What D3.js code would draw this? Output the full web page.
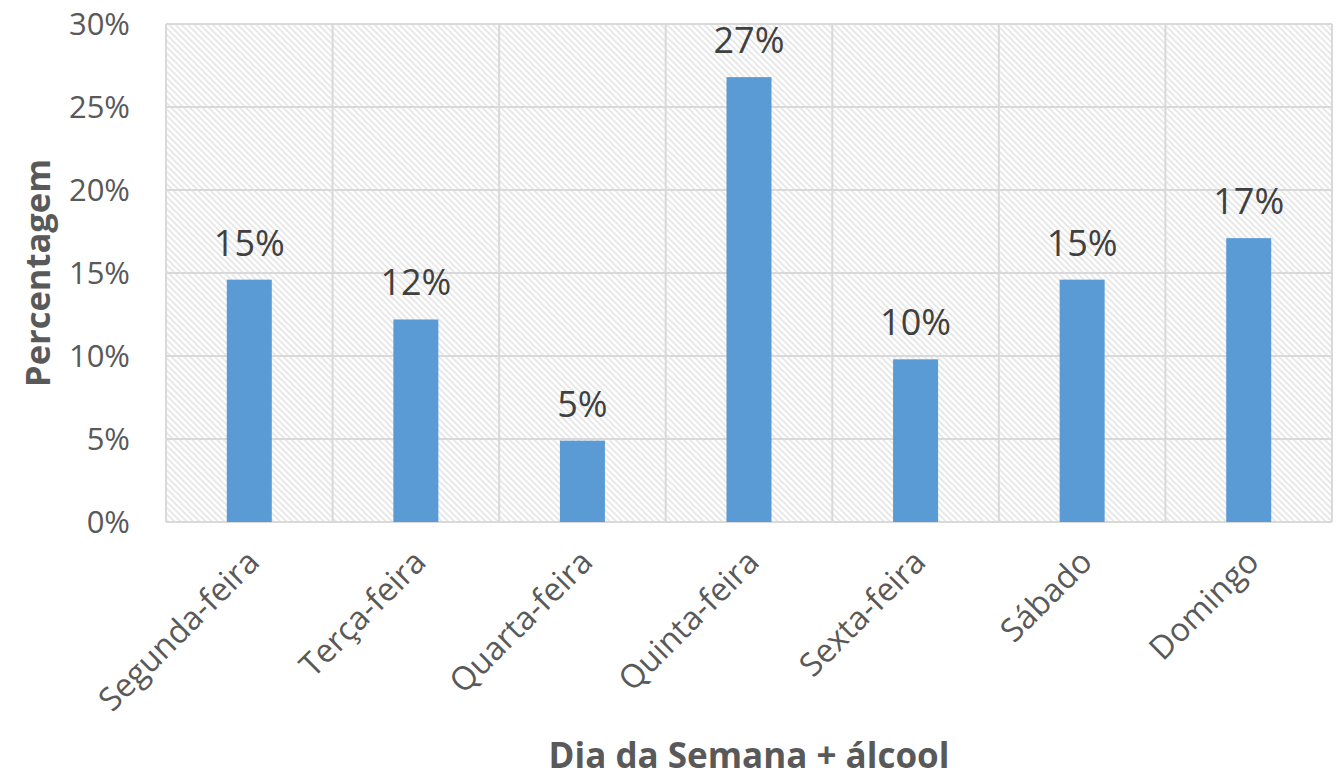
<!DOCTYPE html>
<html><head><meta charset="utf-8">
<script src="https://cdn.jsdelivr.net/npm/d3@7"></script>
<style>body{margin:0;background:#fff;}text{font-family:"Open Sans",sans-serif;}</style>
</head><body>
<svg id="c" width="1337" height="780"></svg>
<script>
const categories = ["Segunda-feira","Terça-feira","Quarta-feira","Quinta-feira","Sexta-feira","Sábado","Domingo"];
const values = [14.6, 12.2, 4.9, 26.8, 9.8, 14.6, 17.1];
const labels = ["15%","12%","5%","27%","10%","15%","17%"];
const yTicks = [0,5,10,15,20,25,30];

const svg = d3.select("#c");
const m = {l:166, r:5, t:24, b:258};
const W = 1337, H = 780;
const x = d3.scaleBand().domain(categories).range([m.l, W-m.r]).paddingInner(0).paddingOuter(0);
const y = d3.scaleLinear().domain([0,30]).range([H-m.b, m.t]);

const defs = svg.append("defs");
const pat = defs.append("pattern").attr("id","hatch").attr("patternUnits","userSpaceOnUse")
  .attr("width",4.4).attr("height",4.4).attr("patternTransform","rotate(-45)");
pat.append("rect").attr("width",4.4).attr("height",4.4).attr("fill","#fff");
pat.append("line").attr("x1",1).attr("y1",0).attr("x2",1).attr("y2",4.4).attr("stroke","#e6e6e6").attr("stroke-width",1.8);

svg.append("rect").attr("x",m.l).attr("y",m.t).attr("width",W-m.r-m.l).attr("height",H-m.b-m.t).attr("fill","url(#hatch)");

// horizontal grid
svg.append("g").selectAll("line").data(yTicks).join("line")
  .attr("x1",m.l).attr("x2",W-m.r).attr("y1",d=>y(d)).attr("y2",d=>y(d))
  .attr("stroke","#d9d9d9").attr("stroke-width",2);
// vertical grid
const vx = categories.map(c=>x(c)).concat([x(categories[categories.length-1])+x.bandwidth()]);
svg.append("g").selectAll("line").data(vx).join("line")
  .attr("x1",d=>d).attr("x2",d=>d).attr("y1",m.t).attr("y2",H-m.b)
  .attr("stroke","#d9d9d9").attr("stroke-width",2);

// y axis labels
const yAxis = d3.axisLeft(y).tickValues(yTicks).tickFormat(d=>d+"%").tickSize(0).tickPadding(36);
const ga = svg.append("g").attr("transform",`translate(${m.l},0)`).call(yAxis);
ga.select(".domain").remove();
ga.selectAll("text").attr("font-size",31).attr("fill","#595959").attr("font-family","Open Sans").attr("dy","0.35em");

// bars
const bw = 45;
svg.append("g").selectAll("rect").data(values).join("rect")
  .attr("x",(d,i)=>x(categories[i])+x.bandwidth()/2-bw/2)
  .attr("y",d=>y(d)).attr("width",bw).attr("height",d=>y(0)-y(d))
  .attr("fill","#5b9bd5");

// data labels
svg.append("g").selectAll("text").data(values).join("text")
  .attr("x",(d,i)=>x(categories[i])+x.bandwidth()/2)
  .attr("y",d=>y(d)-24)
  .attr("text-anchor","middle").attr("font-size",36).attr("fill","#404040")
  .text((d,i)=>labels[i]);

// x category labels
const xAxis = d3.axisBottom(x).tickSize(0).tickPadding(0);
const gx = svg.append("g").attr("transform",`translate(0,${H-m.b})`).call(xAxis);
gx.select(".domain").remove();
gx.selectAll("text").attr("font-size",32.5).attr("fill","#595959").attr("font-family","Open Sans")
  .attr("text-anchor","end").attr("dy",0)
  .attr("transform","translate(12,42) rotate(-45)");

// axis titles
svg.append("text").attr("transform",`translate(50,${(m.t+H-m.b)/2}) rotate(-90)`)
  .attr("text-anchor","middle").attr("font-size",34.5).attr("font-weight","bold").attr("fill","#595959").text("Percentagem");
svg.append("text").attr("x",(m.l+W-m.r)/2).attr("y",768)
  .attr("text-anchor","middle").attr("font-size",35).attr("font-weight","bold").attr("fill","#595959").text("Dia da Semana + álcool");
</script>
</body></html>
